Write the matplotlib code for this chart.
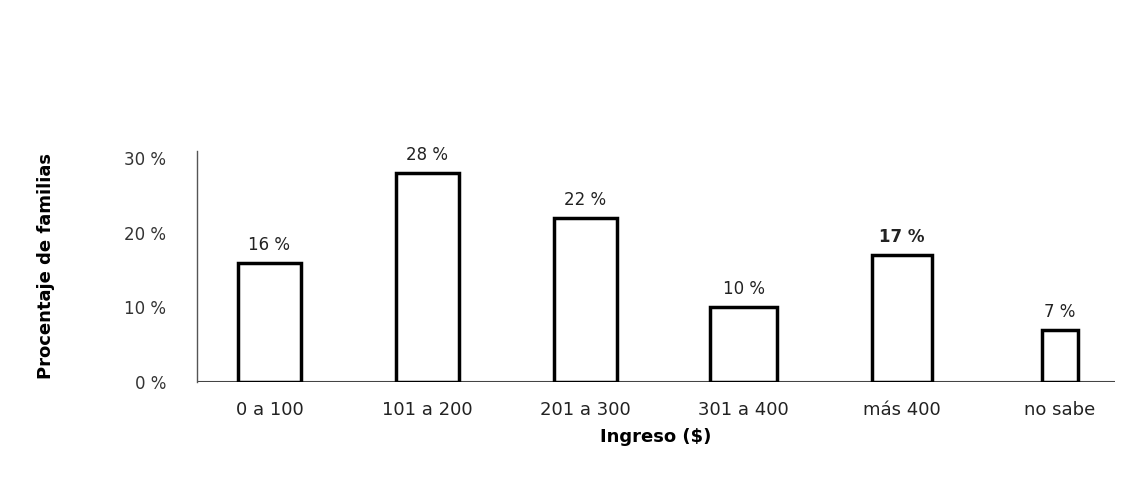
import matplotlib.pyplot as plt

categories = ['0 a 100', '101 a 200', '201 a 300', '301 a 400', 'más 400', 'no sabe']
values = [16, 28, 22, 10, 17, 7]
labels = ['16 %', '28 %', '22 %', '10 %', '17 %', '7 %']
yticks = [0, 10, 20, 30]
ytick_labels = ['0 %', '10 %', '20 %', '30 %']

fig = plt.figure(figsize=(11.24, 4.87), dpi=100)
ax = fig.add_axes([0.175, 0.216, 0.817, 0.474])

x = list(range(len(categories)))
widths = [0.4, 0.4, 0.4, 0.42, 0.38, 0.23]
ax.bar(x, values, width=widths, color='white', edgecolor='black', linewidth=2.5, zorder=3)

for xi, v, lab in zip(x, values, labels):
    weight = 'bold' if lab == '17 %' else 'normal'
    ax.text(xi, v + 1.2, lab, ha='center', va='bottom', fontsize=12,
            color='#222222', fontweight=weight)

ax.set_xlim(-0.46, 5.35)
ax.set_ylim(0, 31)
ax.set_yticks(yticks)
ax.set_yticklabels(ytick_labels, fontsize=12, color='#333333')
ax.set_xticks(x)
ax.set_xticklabels(categories, fontsize=13, color='#222222')
ax.tick_params(axis='y', length=0, pad=22)
ax.tick_params(axis='x', length=0, pad=14)

for s in ['top', 'right', 'bottom']:
    ax.spines[s].set_visible(False)
ax.spines['left'].set_linestyle((0, (6, 1)))
ax.spines['left'].set_color('#555555')
ax.spines['left'].set_linewidth(1)
ax.axhline(0, color='#444444', linewidth=1.5, zorder=2)

ax.set_xlabel('Ingreso ($)', fontsize=13, fontweight='bold', labelpad=6)
ax.set_ylabel('Procentaje de familias', fontsize=13, fontweight='bold', labelpad=50)

plt.savefig('out.png', dpi=100)
